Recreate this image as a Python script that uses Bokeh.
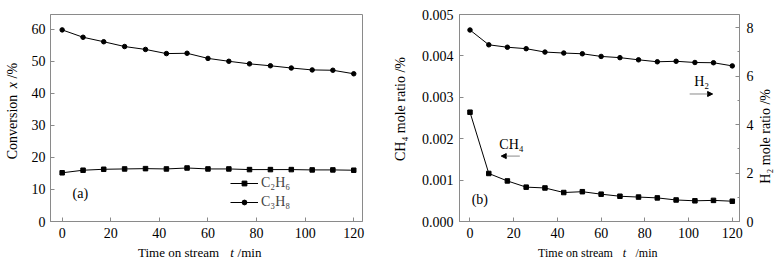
import math
from bokeh.plotting import figure
from bokeh.layouts import row, column
from bokeh.models import (Range1d, LinearAxis, Label, Arrow, NormalHead, Legend,
                          LegendItem, FixedTicker, NumeralTickFormatter)
from bokeh.embed import file_html
from bokeh.resources import INLINE

# ---------------- data ----------------
time_min = [0, 8.6, 17.1, 25.7, 34.3, 42.9, 51.4, 60, 68.6, 77.1, 85.7, 94.3, 102.9, 111.4, 120]
c2h6_conv = [15.2, 16.0, 16.3, 16.4, 16.5, 16.4, 16.7, 16.4, 16.4, 16.2, 16.2, 16.2, 16.1, 16.1, 16.0]
c3h8_conv = [59.8, 57.5, 56.1, 54.6, 53.7, 52.4, 52.5, 50.9, 50.0, 49.2, 48.6, 47.9, 47.3, 47.2, 46.1]
ch4_ratio = [0.00264, 0.00116, 0.00098, 0.00083, 0.00081, 0.00070, 0.00072, 0.00066,
             0.00061, 0.00059, 0.00057, 0.00052, 0.00050, 0.00051, 0.00049]
h2_ratio = [7.90, 7.29, 7.19, 7.13, 6.99, 6.95, 6.92, 6.81, 6.76, 6.67, 6.59, 6.61, 6.56, 6.55, 6.42]

x_ticks = [0, 20, 40, 60, 80, 100, 120]
conv_ticks = [0, 10, 20, 30, 40, 50, 60]
ch4_ticks = [0, 0.001, 0.002, 0.003, 0.004, 0.005]
h2_ticks = [0, 2, 4, 6, 8]

FONT = "Liberation Serif"
GRAY = "#8a8a8a"
FS = "14px"
TOP_H = 243    # height of the plot row
STRIP_H = 20   # height of the x-title strip


def style_axis(ax, standoff=5):
    ax.axis_line_color = GRAY
    ax.major_tick_line_color = GRAY
    ax.minor_tick_line_color = GRAY
    ax.major_tick_in = 4
    ax.major_tick_out = 0
    ax.minor_tick_in = 2
    ax.minor_tick_out = 0
    ax.major_label_text_font = FONT
    ax.major_label_text_font_size = FS
    ax.major_label_text_color = "black"
    ax.major_label_standoff = standoff


def base_fig(width, left, right, xr, yr):
    p = figure(width=width, height=TOP_H, output_backend="svg", toolbar_location=None,
               x_range=xr, y_range=yr, min_border_left=left, min_border_right=right,
               min_border_top=14, min_border_bottom=TOP_H - 221)
    p.grid.visible = False
    p.outline_line_color = GRAY
    p.outline_line_width = 1
    p.background_fill_color = "white"
    p.border_fill_color = "white"
    return p


def strip(width, height):
    # a text-only figure: its frame covers the whole canvas, y grows downwards
    s = figure(width=width, height=height, output_backend="svg", toolbar_location=None,
               x_range=Range1d(0, width), y_range=Range1d(height, 0),
               x_axis_location=None, y_axis_location=None, min_border=0)
    s.grid.visible = False
    s.outline_line_color = None
    s.background_fill_color = "white"
    s.border_fill_color = "white"
    return s


def txt(p, x, y, text, size="14px", angle=0.0, italic=False):
    p.add_layout(Label(x=x, y=y, text=text, text_font=FONT, text_font_size=size,
                       angle=angle, text_font_style="italic" if italic else "normal",
                       text_align="center", text_baseline="middle", text_color="black"))


# ---------------- panel (a) ----------------
ya = strip(22, TOP_H)
txt(ya, 12, 132, "Conversion", angle=math.pi / 2)
txt(ya, 12, 83, "x", angle=math.pi / 2, italic=True)
txt(ya, 12, 66, "/%", angle=math.pi / 2)

pa = base_fig(363, 28, 23, Range1d(-4.8, 123.6), Range1d(0, 64.6))
style_axis(pa.xaxis[0], 6)
style_axis(pa.yaxis[0], 5)
pa.xaxis[0].ticker = FixedTicker(ticks=x_ticks)
pa.yaxis[0].ticker = FixedTicker(ticks=conv_ticks)

la = pa.line(time_min, c2h6_conv, line_color="black", line_width=1)
sa = pa.scatter(time_min, c2h6_conv, marker="square", size=4.5, color="black")
lb = pa.line(time_min, c3h8_conv, line_color="black", line_width=1)
sb = pa.scatter(time_min, c3h8_conv, marker="circle", size=4.5, color="black")

leg = Legend(items=[LegendItem(label="C₂H₆", renderers=[la, sa]),
                    LegendItem(label="C₃H₈", renderers=[lb, sb])],
             location=(180, 10), glyph_width=28, glyph_height=12, label_height=19,
             label_standoff=3, spacing=0, padding=0, margin=0,
             background_fill_alpha=0, border_line_alpha=0,
             label_text_font=FONT, label_text_font_size=FS)
pa.add_layout(leg, "center")
txt(pa, 7.5, 8.7, "(a)")

xa = strip(385, STRIP_H)
txt(xa, 178, 9, "Time on stream", size="13px")
txt(xa, 231.5, 9, "t", size="13px", italic=True)
txt(xa, 249, 9, "/min", size="13px")

# ---------------- panel (b) ----------------
yb = strip(24, TOP_H)
txt(yb, 15, 111, "CH₄ mole ratio /%", angle=math.pi / 2)

pb = base_fig(347, 50, 14, Range1d(-4.8, 123.3), Range1d(0, 0.005))
pb.extra_y_ranges = {"h2": Range1d(0, 8.54)}
style_axis(pb.xaxis[0], 6)
style_axis(pb.yaxis[0], 6)
pb.xaxis[0].ticker = FixedTicker(ticks=x_ticks)
pb.yaxis[0].ticker = FixedTicker(ticks=ch4_ticks)
pb.yaxis[0].formatter = NumeralTickFormatter(format="0.000")

rax = LinearAxis(y_range_name="h2")
style_axis(rax, 7)
rax.ticker = FixedTicker(ticks=h2_ticks, minor_ticks=[1, 3, 5, 7])
pb.add_layout(rax, "right")

pb.line(time_min, ch4_ratio, line_color="black", line_width=1)
pb.scatter(time_min, ch4_ratio, marker="square", size=4.5, color="black")
pb.line(time_min, h2_ratio, line_color="black", line_width=1, y_range_name="h2")
pb.scatter(time_min, h2_ratio, marker="circle", size=4.5, color="black", y_range_name="h2")

txt(pb, 4.5, 0.000525, "(b)")
txt(pb, 19.0, 0.00185, "CH₄")
pb.add_layout(Arrow(end=NormalHead(size=5, line_color="black", fill_color="black"),
                    x_start=22.8, y_start=0.00158, x_end=14.3, y_end=0.00158,
                    line_color=GRAY, line_width=1))
txt(pb, 106.0, 0.00339, "H₂")
pb.add_layout(Arrow(end=NormalHead(size=5, line_color="black", fill_color="black"),
                    x_start=100.5, y_start=0.00308, x_end=111.0, y_end=0.00308,
                    line_color=GRAY, line_width=1))

yb2 = strip(27, TOP_H)
txt(yb2, 9, 143, "H₂ mole ratio /%", angle=math.pi / 2)

xb = strip(398, STRIP_H)
txt(xb, 190, 9, "Time on stream", size="12px")
txt(xb, 239, 9, "t", size="12px", italic=True)
txt(xb, 261, 9, "/min", size="12px")

layout = row(column(row(ya, pa), xa), column(row(yb, pb, yb2), xb))
open("out.html", "w").write(file_html(layout, INLINE))
